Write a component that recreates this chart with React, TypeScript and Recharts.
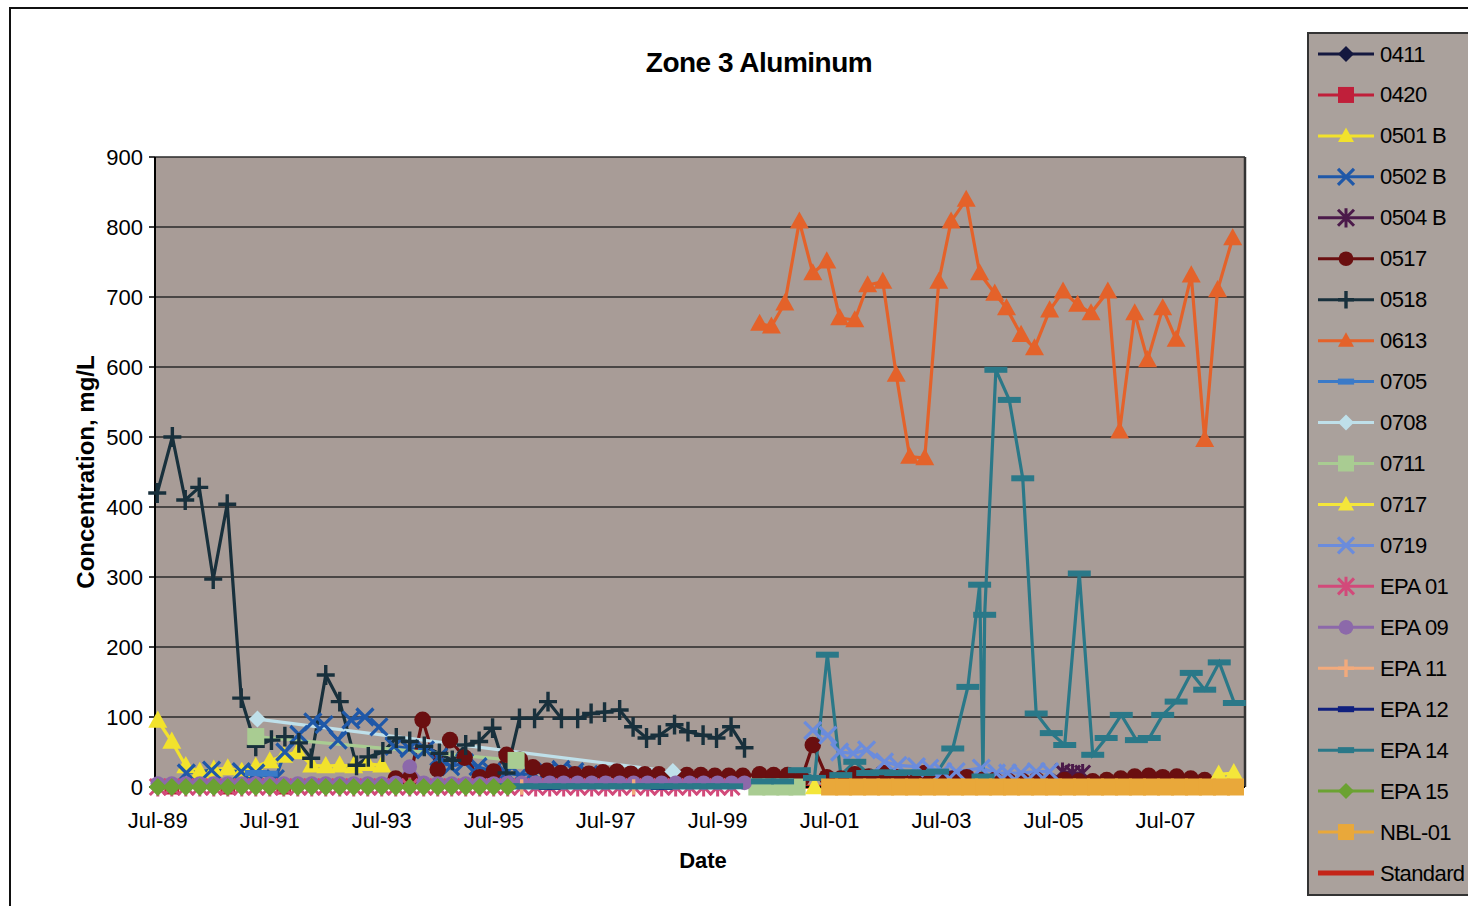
import { CartesianGrid, Legend, Line, LineChart, ReferenceLine, XAxis, YAxis } from "recharts";

type Pt = [number, number | null];
type Shape = "diamond" | "square" | "triangle" | "x" | "star" | "circle" | "plus" | "dash" | "none";

const xTicks = [1989.5, 1991.5, 1993.5, 1995.5, 1997.5, 1999.5, 2001.5, 2003.5, 2005.5, 2007.5];
const xTickLabels = ["Jul-89", "Jul-91", "Jul-93", "Jul-95", "Jul-97", "Jul-99", "Jul-01", "Jul-03", "Jul-05", "Jul-07"];
const yTicks = [0, 100, 200, 300, 400, 500, 600, 700, 800, 900];

// well readings, [decimal year, mg/L]
const s0411: Pt[] = [[1989.5, 0], [1990.5, 0], [1991.5, 0], [1992.5, 0]];
const s0420: Pt[] = [[1989.75, 0], [1990.75, 0], [1991.75, 0]];
const s0501B: Pt[] = [
  [1989.5, 95], [1989.75, 65], [1990, 30], [1990.25, 22], [1990.5, 25], [1990.75, 27], [1991, 22],
  [1991.25, 29], [1991.5, 37], [1991.75, 45], [1992, 50], [1992.25, 31], [1992.5, 30], [1992.75, 31],
  [1993, 30], [1993.25, 33], [1993.5, 31],
];
const s0502B: Pt[] = [
  [1990.01, 20], [1990.46, 24], [1990.99, 22], [1991.25, 20], [1991.6, 12], [1991.77, 50], [1992.02, 75],
  [1992.27, 93], [1992.47, 89], [1992.72, 67], [1992.95, 96], [1993.2, 100], [1993.45, 86], [1993.72, 58],
  [1993.99, 55], [1994.28, 53], [1994.52, 43], [1994.73, 29], [1994.98, 35], [1995.22, 29], [1995.47, 22],
  [1995.72, 20], [1995.97, 17], [1996.2, 20], [1996.45, 22], [1996.7, 25], [1996.95, 22], [1997.2, 18],
];
const s0504B: Pt[] = [[2005.66, 22], [2005.84, 20], [2006.02, 20]];
const s0517: Pt[] = [
  [1993.75, 12], [1994, 12], [1994.23, 96], [1994.5, 25], [1994.72, 67], [1994.98, 42], [1995.25, 14],
  [1995.5, 22], [1995.73, 46], [1995.97, 39], [1996.2, 28], [1996.45, 23], [1996.7, 20], [1996.95, 18],
  [1997.2, 19], [1997.45, 21], [1997.7, 22], [1997.95, 19], [1998.2, 18], [1998.45, 18], [1998.7, 17],
  [1998.95, 17], [1999.2, 17], [1999.45, 16], [1999.7, 16], [1999.95, 16], [2000.25, 18], [2000.5, 17],
  [2000.75, 17], [2001, 12], [2001.2, 60], [2001.45, 14], [2001.7, 12], [2001.95, 18], [2002.2, 15],
  [2002.45, 20], [2002.7, 14], [2002.95, 12], [2003.2, 20], [2003.45, 10], [2003.7, 12], [2003.95, 14],
  [2004.2, 10], [2004.45, 10], [2004.7, 8], [2004.95, 8], [2005.2, 10], [2005.45, 8], [2005.7, 10],
  [2005.95, 8], [2006.2, 8], [2006.45, 10], [2006.7, 12], [2006.95, 15], [2007.2, 16], [2007.45, 14],
  [2007.7, 15], [2007.95, 12], [2008.2, 10],
];
const s0518: Pt[] = [
  [1989.49, 420], [1989.76, 500], [1989.99, 410], [1990.24, 428], [1990.49, 297], [1990.74, 404],
  [1990.99, 127], [1991.25, 58], [1991.53, 67], [1991.77, 72], [1992.02, 63], [1992.24, 41], [1992.5, 160],
  [1992.75, 122], [1993.05, 31], [1993.26, 43], [1993.52, 50], [1993.76, 70], [1994, 65], [1994.26, 58],
  [1994.53, 48], [1994.76, 38], [1995, 60], [1995.24, 65], [1995.48, 84], [1995.73, 20], [1995.96, 98],
  [1996.23, 98], [1996.47, 122], [1996.71, 98], [1997, 98], [1997.24, 105], [1997.48, 107], [1997.75, 110],
  [1997.99, 86], [1998.23, 70], [1998.46, 74], [1998.73, 89], [1998.97, 79], [1999.24, 74], [1999.48, 70],
  [1999.74, 86], [1999.98, 56],
];
const s0613: Pt[] = [
  [2000.25, 662], [2000.46, 658], [2000.7, 691], [2000.96, 808], [2001.2, 734], [2001.45, 751],
  [2001.68, 670], [2001.95, 667], [2002.18, 717], [2002.45, 722], [2002.69, 589], [2002.93, 472],
  [2003.2, 470], [2003.45, 722], [2003.67, 808], [2003.94, 839], [2004.18, 734], [2004.45, 705],
  [2004.66, 684], [2004.92, 646], [2005.16, 627], [2005.43, 681], [2005.67, 708], [2005.93, 689],
  [2006.17, 677], [2006.47, 708], [2006.68, 508], [2006.95, 677], [2007.18, 610], [2007.45, 684],
  [2007.69, 639], [2007.96, 731], [2008.2, 496], [2008.43, 710], [2008.7, 784],
];
const s0705: Pt[] = [[1991.25, 20], [1991.45, 19]];
const s0708: Pt[] = [[1991.28, 97], [1998.7, 22]];
const s0711: Pt[] = [[1991.25, 72], [1995.9, 38], [1998, null], [2000.2, 0], [2000.45, 0], [2000.7, 0], [2000.92, 0]];
const s0717: Pt[] = [[2001.23, 0], [2005, null], [2008.45, 18], [2008.72, 20]];
const s0719: Pt[] = [
  [2001.2, 81], [2001.47, 74], [2001.68, 50], [2001.92, 48], [2002.16, 53], [2002.48, 36], [2002.72, 31],
  [2003.05, 29], [2003.29, 27], [2003.52, 22], [2003.76, 22], [2004.21, 27], [2004.48, 20], [2004.68, 20],
  [2004.92, 20], [2005.19, 22], [2005.43, 22],
];
const sEpa01: Pt[] = [
  [1989.5, 0], [1989.75, 0], [1990, 0], [1990.25, 0], [1990.5, 0], [1990.75, 0], [1991, 0], [1991.25, 0],
  [1991.5, 0], [1991.75, 0], [1992, 0], [1992.25, 0], [1992.5, 0], [1992.75, 0], [1993, 0], [1993.25, 0],
  [1993.5, 0], [1993.75, 0], [1994, 0], [1994.25, 0], [1994.5, 0], [1994.75, 0], [1995, 0], [1995.25, 0],
  [1995.5, 0], [1995.75, 0], [1996, 0], [1996.25, 0], [1996.5, 0], [1996.75, 0], [1997, 0], [1997.25, 0],
  [1997.5, 0], [1997.75, 0], [1998, 0], [1998.25, 0], [1998.5, 0], [1998.75, 0], [1999, 0], [1999.25, 0],
  [1999.5, 0], [1999.75, 0],
];
const sEpa09: Pt[] = [
  [1989.5, 5], [1989.75, 5], [1990, 5], [1990.25, 5], [1990.5, 5], [1990.75, 5], [1991, 5], [1991.25, 5],
  [1991.5, 5], [1991.75, 5], [1992, 5], [1992.25, 5], [1992.5, 5], [1992.75, 5], [1993, 5], [1993.25, 5],
  [1993.5, 5], [1993.75, 6], [1994, 29], [1994.25, 6], [1994.5, 5], [1994.75, 5], [1995, 5], [1995.25, 5],
  [1995.5, 5], [1995.75, 6], [1996, 6], [1996.25, 6], [1996.5, 6], [1996.75, 6], [1997, 6], [1997.25, 6],
  [1997.5, 6], [1997.75, 6], [1998, 6], [1998.25, 6], [1998.5, 6], [1998.75, 6], [1999, 6], [1999.25, 6],
  [1999.5, 6], [1999.75, 6], [1999.98, 6],
];
const sEpa11: Pt[] = [[1996, 0], [1998, 0]];
const sEpa12: Pt[] = [[1996.5, 0], [1998.5, 0]];
const sEpa14: Pt[] = [
  [1995.75, 1], [1996, 1], [1996.25, 1], [1996.5, 1], [1996.75, 1], [1997, 1], [1997.25, 1], [1997.5, 1],
  [1997.75, 1], [1998, 1], [1998.25, 1], [1998.5, 1], [1998.75, 1], [1999, 1], [1999.25, 1], [1999.5, 1],
  [1999.75, 1], [2000.3, 8], [2000.66, 8], [2000.96, 24], [2001.23, 13], [2001.46, 189], [2001.7, 17],
  [2001.95, 36], [2002.18, 20], [2002.43, 21], [2002.68, 20], [2002.93, 21], [2003.18, 20], [2003.43, 22],
  [2003.7, 55], [2003.97, 143], [2004.18, 289], [2004.24, 15], [2004.27, 246], [2004.47, 596],
  [2004.71, 553], [2004.95, 441], [2005.19, 105], [2005.46, 77], [2005.7, 60], [2005.96, 305],
  [2006.2, 46], [2006.44, 70], [2006.71, 103], [2006.98, 67], [2007.21, 70], [2007.45, 103],
  [2007.69, 122], [2007.96, 163], [2008.2, 139], [2008.46, 178], [2008.73, 120],
];
const sEpa15: Pt[] = [
  [1989.5, 0], [1989.75, 0], [1990, 0], [1990.25, 0], [1990.5, 0], [1990.75, 0], [1991, 0], [1991.25, 0],
  [1991.5, 0], [1991.75, 0], [1992, 0], [1992.25, 0], [1992.5, 0], [1992.75, 0], [1993, 0], [1993.25, 0],
  [1993.5, 0], [1993.75, 0], [1994, 0], [1994.25, 0], [1994.5, 0], [1994.75, 0], [1995, 0], [1995.25, 0],
  [1995.5, 0], [1995.75, 0],
];
const sNbl01: Pt[] = [
  [2001.5, 0], [2001.75, 0], [2002, 0], [2002.25, 0], [2002.5, 0], [2002.75, 0], [2003, 0], [2003.25, 0],
  [2003.5, 0], [2003.75, 0], [2004, 0], [2004.25, 0], [2004.5, 0], [2004.75, 0], [2005, 0], [2005.25, 0],
  [2005.5, 0], [2005.75, 0], [2006, 0], [2006.25, 0], [2006.5, 0], [2006.75, 0], [2007, 0], [2007.25, 0],
  [2007.5, 0], [2007.75, 0], [2008, 0], [2008.25, 0], [2008.5, 0], [2008.75, 0],
];
const sStandard: Pt[] = [[1989.5, 0.2], [2008.75, 0.2]];

type Series = { name: string; color: string; shape: Shape; size: number; points: Pt[] };

const series: Series[] = [
  { name: "0411", color: "#14183f", shape: "diamond", size: 17, points: s0411 },
  { name: "0420", color: "#c01f3a", shape: "square", size: 15, points: s0420 },
  { name: "0501 B", color: "#f2e22c", shape: "triangle", size: 19, points: s0501B },
  { name: "0502 B", color: "#1f58a8", shape: "x", size: 17, points: s0502B },
  { name: "0504 B", color: "#4b1a4a", shape: "star", size: 15, points: s0504B },
  { name: "0517", color: "#6a0f10", shape: "circle", size: 18, points: s0517 },
  { name: "0518", color: "#18303c", shape: "plus", size: 18, points: s0518 },
  { name: "0613", color: "#e4622a", shape: "triangle", size: 19, points: s0613 },
  { name: "0705", color: "#3a7ac8", shape: "dash", size: 16, points: s0705 },
  { name: "0708", color: "#bfe0ea", shape: "diamond", size: 17, points: s0708 },
  { name: "0711", color: "#a9cc92", shape: "square", size: 17, points: s0711 },
  { name: "0717", color: "#f4e63a", shape: "triangle", size: 19, points: s0717 },
  { name: "0719", color: "#6b8cdc", shape: "x", size: 17, points: s0719 },
  { name: "EPA 01", color: "#d24a7a", shape: "star", size: 16, points: sEpa01 },
  { name: "EPA 09", color: "#8c69aa", shape: "circle", size: 16, points: sEpa09 },
  { name: "EPA 11", color: "#f2aa7c", shape: "plus", size: 14, points: sEpa11 },
  { name: "EPA 12", color: "#10207e", shape: "dash", size: 16, points: sEpa12 },
  { name: "EPA 14", color: "#2a7888", shape: "dash", size: 17, points: sEpa14 },
  { name: "EPA 15", color: "#6ba232", shape: "diamond", size: 18, points: sEpa15 },
  { name: "NBL-01", color: "#e9a83a", shape: "square", size: 17, points: sNbl01 },
  { name: "Standard", color: "#c42418", shape: "none", size: 0, points: sStandard },
];

const FONT = "'Liberation Sans', Arial, sans-serif";

function Marker({ shape, cx, cy, color, size }: { shape: Shape; cx: number; cy: number; color: string; size: number }) {
  const h = size / 2;
  switch (shape) {
    case "diamond":
      return <polygon points={`${cx},${cy - h} ${cx + h},${cy} ${cx},${cy + h} ${cx - h},${cy}`} fill={color} />;
    case "square":
      return <rect x={cx - h} y={cy - h} width={size} height={size} fill={color} />;
    case "triangle":
      return <polygon points={`${cx},${cy - h * 1.05} ${cx + h},${cy + h * 0.75} ${cx - h},${cy + h * 0.75}`} fill={color} />;
    case "circle":
      return <circle cx={cx} cy={cy} r={h * 0.92} fill={color} />;
    case "x":
      return (
        <path d={`M${cx - h},${cy - h}L${cx + h},${cy + h}M${cx - h},${cy + h}L${cx + h},${cy - h}`} stroke={color} strokeWidth={3.2} />
      );
    case "star":
      return (
        <path
          d={`M${cx - h},${cy - h}L${cx + h},${cy + h}M${cx - h},${cy + h}L${cx + h},${cy - h}M${cx},${cy - h * 1.2}L${cx},${cy + h * 1.2}`}
          stroke={color}
          strokeWidth={3}
        />
      );
    case "plus":
      return <path d={`M${cx - h},${cy}L${cx + h},${cy}M${cx},${cy - h * 1.1}L${cx},${cy + h * 1.1}`} stroke={color} strokeWidth={3.4} />;
    case "dash":
      return <rect x={cx - h * 1.35} y={cy - 3} width={size * 1.35} height={6} fill={color} />;
    default:
      return null;
  }
}

function LegendBox() {
  return (
    <svg width={161} height={864} style={{ display: "block", fontFamily: FONT }}>
      <rect x={1} y={1} width={180} height={862} fill="#aaa19c" stroke="#333" strokeWidth={2} />
      {series.map((s, i) => {
        const y = 22 + i * 40.95;
        return (
          <g key={s.name}>
            <line x1={11} x2={67} y1={y} y2={y} stroke={s.color} strokeWidth={s.shape === "none" ? 5 : 3} />
            <Marker shape={s.shape} cx={39} cy={y} color={s.color} size={s.shape === "dash" ? 12 : 16} />
            <text x={73} y={y} dominantBaseline="central" fontSize={22} letterSpacing={-0.6} fill="#000">
              {s.name}
            </text>
          </g>
        );
      })}
    </svg>
  );
}

const drawOrder = [...series.filter((s) => s.name === "Standard"), ...series.filter((s) => s.name !== "Standard")];

export default function App() {
  return (
    <div style={{ position: "absolute", left: 0, top: 0, width: 1468, height: 906, background: "#fff", fontFamily: FONT }}>
      <LineChart width={1468} height={906} margin={{ top: 157, right: 223, bottom: 79, left: 100 }}>
        <path d="M10,906 L10,8 L1468,8" stroke="#111" strokeWidth={2} fill="none" />
        <CartesianGrid vertical={false} stroke="#2a2a2a" strokeWidth={1.4} fill="#a89c97" fillOpacity={1} />
        <XAxis
          type="number"
          dataKey="t"
          domain={[1989.45, 2008.92]}
          ticks={xTicks}
          interval={0}
          tickFormatter={(v: number) => xTickLabels[xTicks.indexOf(v)] ?? ""}
          height={40}
          tickSize={5}
          tickMargin={20}
          axisLine={{ stroke: "#000", strokeWidth: 2 }}
          tickLine={{ stroke: "#000" }}
          tick={{ fill: "#000", fontSize: 22 }}
        />
        <YAxis
          type="number"
          domain={[0, 900]}
          ticks={yTicks}
          interval={0}
          width={55}
          tickSize={6}
          tickMargin={6}
          axisLine={{ stroke: "#000", strokeWidth: 2 }}
          tickLine={{ stroke: "#000", strokeWidth: 1.5 }}
          tick={{ fill: "#000", fontSize: 22 }}
        />
        <ReferenceLine x={2008.92} stroke="#333" strokeWidth={2.5} />
        {drawOrder.map((s) => (
          <Line
            key={s.name}
            data={s.points.map(([t, v]) => ({ t, v }))}
            dataKey="v"
            name={s.name}
            type="linear"
            stroke={s.color}
            strokeWidth={s.shape === "none" ? 4 : 3.2}
            isAnimationActive={false}
            activeDot={false}
            connectNulls={false}
            legendType="none"
            dot={
              s.shape === "none"
                ? false
                : (p: any) =>
                    p.cy == null || p.cx == null ? (
                      <g key={`${s.name}-${p.index}`} />
                    ) : (
                      <Marker key={`${s.name}-${p.index}`} shape={s.shape} cx={p.cx} cy={p.cy} color={s.color} size={s.size} />
                    )
            }
          />
        ))}
        <text x={759} y={62} textAnchor="middle" dominantBaseline="central" fontSize={28} fontWeight="bold" letterSpacing={-0.5} fill="#000">
          Zone 3 Aluminum
        </text>
        <text
          x={85}
          y={472}
          textAnchor="middle"
          dominantBaseline="central"
          fontSize={24}
          fontWeight="bold"
          fill="#000"
          transform="rotate(-90 85 472)"
        >
          Concentration, mg/L
        </text>
        <text x={703} y={860} textAnchor="middle" dominantBaseline="central" fontSize={22} fontWeight="bold" fill="#000">
          Date
        </text>
        <Legend
          layout="horizontal"
          verticalAlign="middle"
          align="center"
          content={() => <LegendBox />}
          wrapperStyle={{ left: 1307, top: 32, width: 161, height: 864 }}
        />
      </LineChart>
    </div>
  );
}
